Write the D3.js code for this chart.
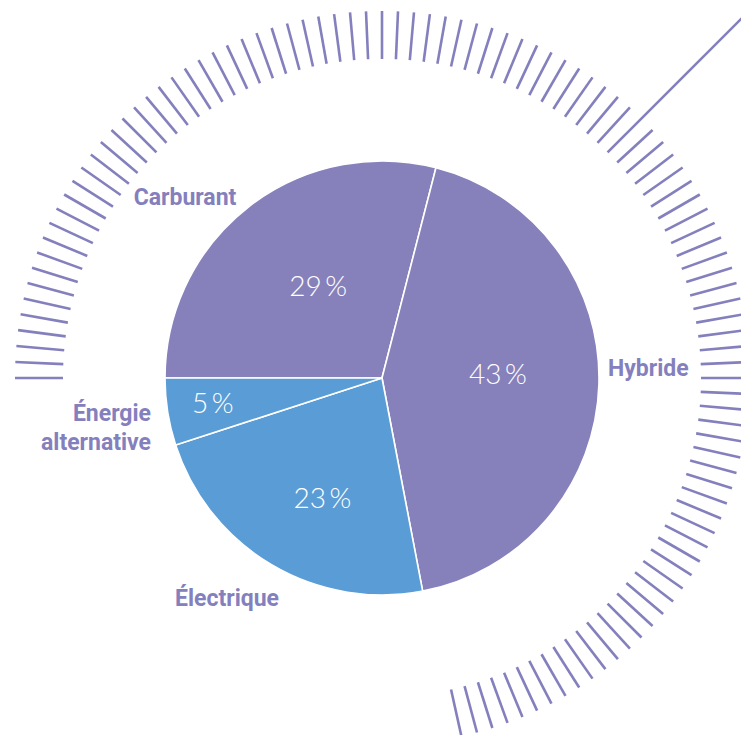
<!DOCTYPE html>
<html>
<head>
<meta charset="utf-8">
<script src="https://cdn.jsdelivr.net/npm/d3@7"></script>
<style>
  html, body { margin: 0; padding: 0; background: #ffffff; }
  svg { display: block; }
</style>
</head>
<body>
<svg id="chart" width="741" height="735"></svg>
<script>
// ---- data ----
const categories = ["Carburant", "Hybride", "Électrique", "Énergie alternative"];
const values = [29, 43, 23, 5];
const valueLabels = ["29 %", "43 %", "23 %", "5 %"];
const sliceColors = ["#8681bb", "#8681bb", "#5a9cd6", "#5a9cd6"];
// decorative gauge ring: tick angles in degrees (clockwise from top)
const ringStartDeg = -90;
const ringEndDeg = 167.5;
const ringTickCount = 104;
const pointerDeg = 45;

// ---- layout ----
const W = 741, H = 735;
const cx = 382, cy = 378;
const R = 217;
const tickInner = 319, tickOuter = 367;
const purple = "#8480bd";

const svg = d3.select("#chart");
const g = svg.append("g").attr("transform", `translate(${cx},${cy})`);

// ring ticks
const tickScale = d3.scaleLinear().domain([0, ringTickCount - 1]).range([ringStartDeg, ringEndDeg]);
const rad = d => d * Math.PI / 180;
const ticks = d3.range(ringTickCount).map(i => tickScale(i)).filter(a => Math.abs(a - pointerDeg) > 0.01);
g.append("g").selectAll("line").data(ticks).join("line")
  .attr("x1", a => tickInner * Math.sin(rad(a)))
  .attr("y1", a => -tickInner * Math.cos(rad(a)))
  .attr("x2", a => tickOuter * Math.sin(rad(a)))
  .attr("y2", a => -tickOuter * Math.cos(rad(a)))
  .attr("stroke", purple)
  .attr("stroke-width", 2.6);

// pointer line
g.append("line")
  .attr("x1", tickInner * Math.sin(rad(pointerDeg)))
  .attr("y1", -tickInner * Math.cos(rad(pointerDeg)))
  .attr("x2", 700 * Math.sin(rad(pointerDeg)))
  .attr("y2", -700 * Math.cos(rad(pointerDeg)))
  .attr("stroke", purple)
  .attr("stroke-width", 2.6);

// pie
const data = categories.map((c, i) => ({ cat: c, value: values[i], label: valueLabels[i], color: sliceColors[i] }));
const pie = d3.pie().sort(null).value(d => d.value)
  .startAngle(-Math.PI / 2).endAngle(3 * Math.PI / 2);
const arcs = pie(data);
const arc = d3.arc().innerRadius(0).outerRadius(R);

g.append("g").selectAll("path").data(arcs).join("path")
  .attr("d", arc)
  .attr("fill", d => d.data.color)
  .attr("stroke", "#ffffff")
  .attr("stroke-width", 1.6)
  .attr("stroke-linejoin", "round");

// value labels inside (radius and angular nudge per slice)
const innerLabelR = [112, 116, 134, 171];
const innerLabelNudgeDeg = [3, -4, -4.2, 0.6];
g.append("g").selectAll("text").data(arcs).join("text")
  .attr("transform", (d, i) => {
    const a = (d.startAngle + d.endAngle) / 2 + rad(innerLabelNudgeDeg[i]);
    const r = innerLabelR[i];
    return `translate(${r * Math.sin(a)},${-r * Math.cos(a)})`;
  })
  .attr("text-anchor", "middle")
  .attr("dy", "0.36em")
  .attr("fill", "#ffffff")
  .style("font-family", "Lato, 'Open Sans', sans-serif")
  .style("font-weight", 300)
  .style("font-size", "28px")
  .text(d => d.data.label.replace(" ", "\u2009"));

// category labels outside
const outer = [
  { x: -197, y: -181, anchor: "middle", lines: ["Carburant"] },
  { x: 226, y: -10, anchor: "start", lines: ["Hybride"] },
  { x: -231, y: 49, anchor: "end", lines: ["Énergie", "alternative"] },
  { x: -207, y: 219.5, anchor: "start", lines: ["Électrique"] }
];
const labelG = g.append("g");
arcs.forEach((d, i) => {
  const o = outer[i];
  const t = labelG.append("text")
    .attr("x", o.x).attr("y", o.y)
    .attr("text-anchor", o.anchor)
    .attr("fill", purple)
    .style("font-family", "Roboto, 'Liberation Sans', sans-serif")
    .style("font-weight", 700)
    .style("font-size", "23px");
  const n = o.lines.length;
  o.lines.forEach((ln, k) => {
    t.append("tspan").attr("x", o.x)
      .attr("dy", k === 0 ? `${0.36 - (n - 1) * 0.62}em` : "1.24em")
      .text(ln);
  });
});
</script>
</body>
</html>
